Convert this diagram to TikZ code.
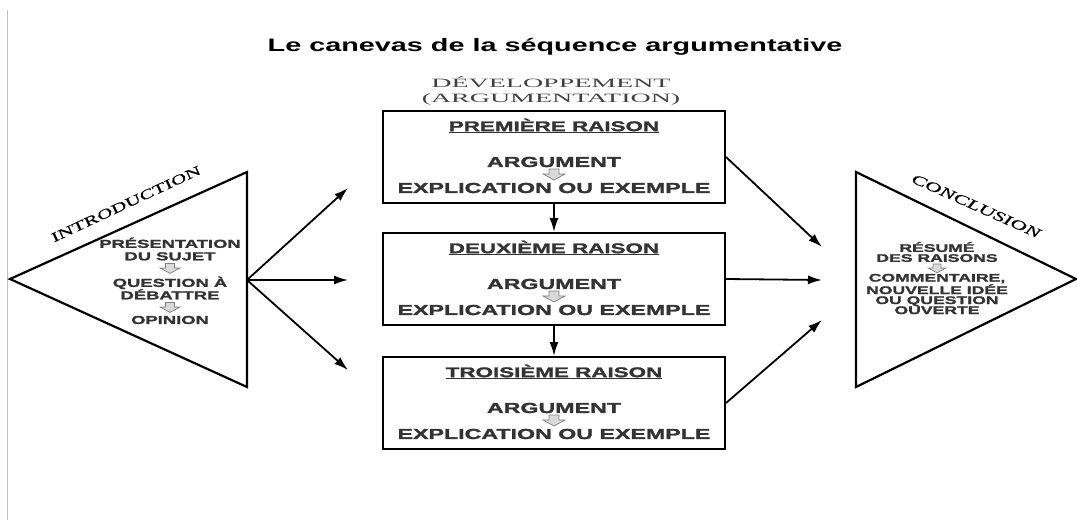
\documentclass[tikz,border=0pt]{standalone}
\usepackage{fontspec}
\setmainfont{Liberation Sans}
\newfontfamily\largesans[FakeStretch=1.6]{Liberation Sans}
\newfontfamily\grassans[FakeStretch=1.6,FakeBold=1.8]{Liberation Sans}
\newfontfamily\largeserif[FakeStretch=1.6,FakeBold=0.6]{Liberation Serif}
\newfontfamily\tlargeserif[FakeStretch=2.2]{Liberation Serif}
\usetikzlibrary{arrows.meta}

\tikzset{
  raison/.style={draw,line width=2pt,minimum width=342pt,minimum height=92pt,inner sep=0pt},
  entete/.style={font=\grassans\bfseries\fontsize{14}{14}\selectfont,text=black!80,inner sep=0pt},
  corps/.style={font=\grassans\bfseries\fontsize{14.5}{15}\selectfont,text=black!80,inner sep=0pt},
  petit/.style={font=\grassans\bfseries\fontsize{11.5}{12.5}\selectfont,text=black!80,align=center,inner sep=0pt},
  minus/.style={font=\grassans\bfseries\fontsize{11}{10}\selectfont,text=black!80,align=center,inner sep=0pt},
  fleche/.style={-{Latex[length=14pt,width=9pt]},line width=1.8pt},
  bord/.style={line width=2.2pt,line join=miter},
  gris/.pic={\filldraw[draw=gray,fill=gray!30,line width=0.7pt] (-5,-5) -- (5,-5) -- (5,0) -- (11,0) -- (0,6) -- (-11,0) -- (-5,0) -- cycle;}
}

\begin{document}
\begin{tikzpicture}[x=1pt,y=-1pt]
  \useasboundingbox (0,0) rectangle (1077,520);
  % trait gris a gauche
  \draw[gray!50,line width=1pt] (7,10) -- (7,520);

  % titres
  \node[font=\largesans\bfseries\fontsize{18}{20}\selectfont] (titre) at (555,47) {Le canevas de la séquence argumentative};
  \node[font=\tlargeserif\fontsize{12.7}{15}\selectfont,text=black!75,align=center] (dev) at (551,91) {DÉVELOPPEMENT\\(ARGUMENTATION)};

  % les trois raisons
  \foreach \i/\y/\nom in {1/157/PREMIÈRE RAISON,2/279/DEUXIÈME RAISON,3/403/TROISIÈME RAISON}{
    \node[raison] (b\i) at (554,\y) {};
    \node[entete] (t\i) at (554,\y-31) {\underline{\nom}};
    \node[corps] (a\i) at (554,\y+5) {ARGUMENT};
    \pic at (554,\y+17) {gris};
    \node[corps] (e\i) at (554,\y+31) {EXPLICATION OU EXEMPLE};
  }
  \draw[fleche] (b1) -- (b2);
  \draw[fleche] (b2) -- (b3);

  % introduction
  \draw[bord] (10,279) coordinate (ipointe) -- (247,172) coordinate (ihaut) -- (247,387) coordinate (ibas) -- cycle;
  \node[font=\largeserif\fontsize{13.5}{14}\selectfont,rotate=25] (introlab) at (126,204) {INTRODUCTION};
  \node[petit] (pres) at (170,249) {PRÉSENTATION\\DU SUJET};
  \pic[scale=0.9] at (170,268) {gris};
  \node[petit] (quest) at (170,288) {QUESTION À\\DÉBATTRE};
  \pic[scale=0.9] at (170,307) {gris};
  \node[petit] (opin) at (170,320) {OPINION};

  \coordinate (idroite) at (247,280);
  \coordinate (c1) at (348,188);
  \coordinate (c2) at (348,280);
  \coordinate (c3) at (348,370);
  \draw[fleche] (idroite) -- (c1);
  \draw[fleche] (idroite) -- (c2);
  \draw[fleche] (idroite) -- (c3);

  % conclusion
  \draw[bord] (856,172) coordinate (chaut) -- (1076,279) coordinate (cpointe) -- (856,387) coordinate (cbas) -- cycle;
  \node[font=\largeserif\itshape\fontsize{14}{14}\selectfont,rotate=-24] (conclab) at (976,206) {CONCLUSION};
  \node[minus] (resume) at (937,252) {RÉSUMÉ\\DES RAISONS};
  \pic[scale=0.8] at (937,268) {gris};
  \node[minus] (comm) at (937,294) {COMMENTAIRE,\\NOUVELLE IDÉE\\OU QUESTION\\OUVERTE};

  \coordinate (d1) at (822,247);
  \coordinate (d2) at (822,280);
  \coordinate (d3) at (822,320);
  \draw[fleche] (b1.east) -- (d1);
  \draw[fleche] (b2.east) -- (d2);
  \draw[fleche] (b3.east) -- (d3);
\end{tikzpicture}
\end{document}
